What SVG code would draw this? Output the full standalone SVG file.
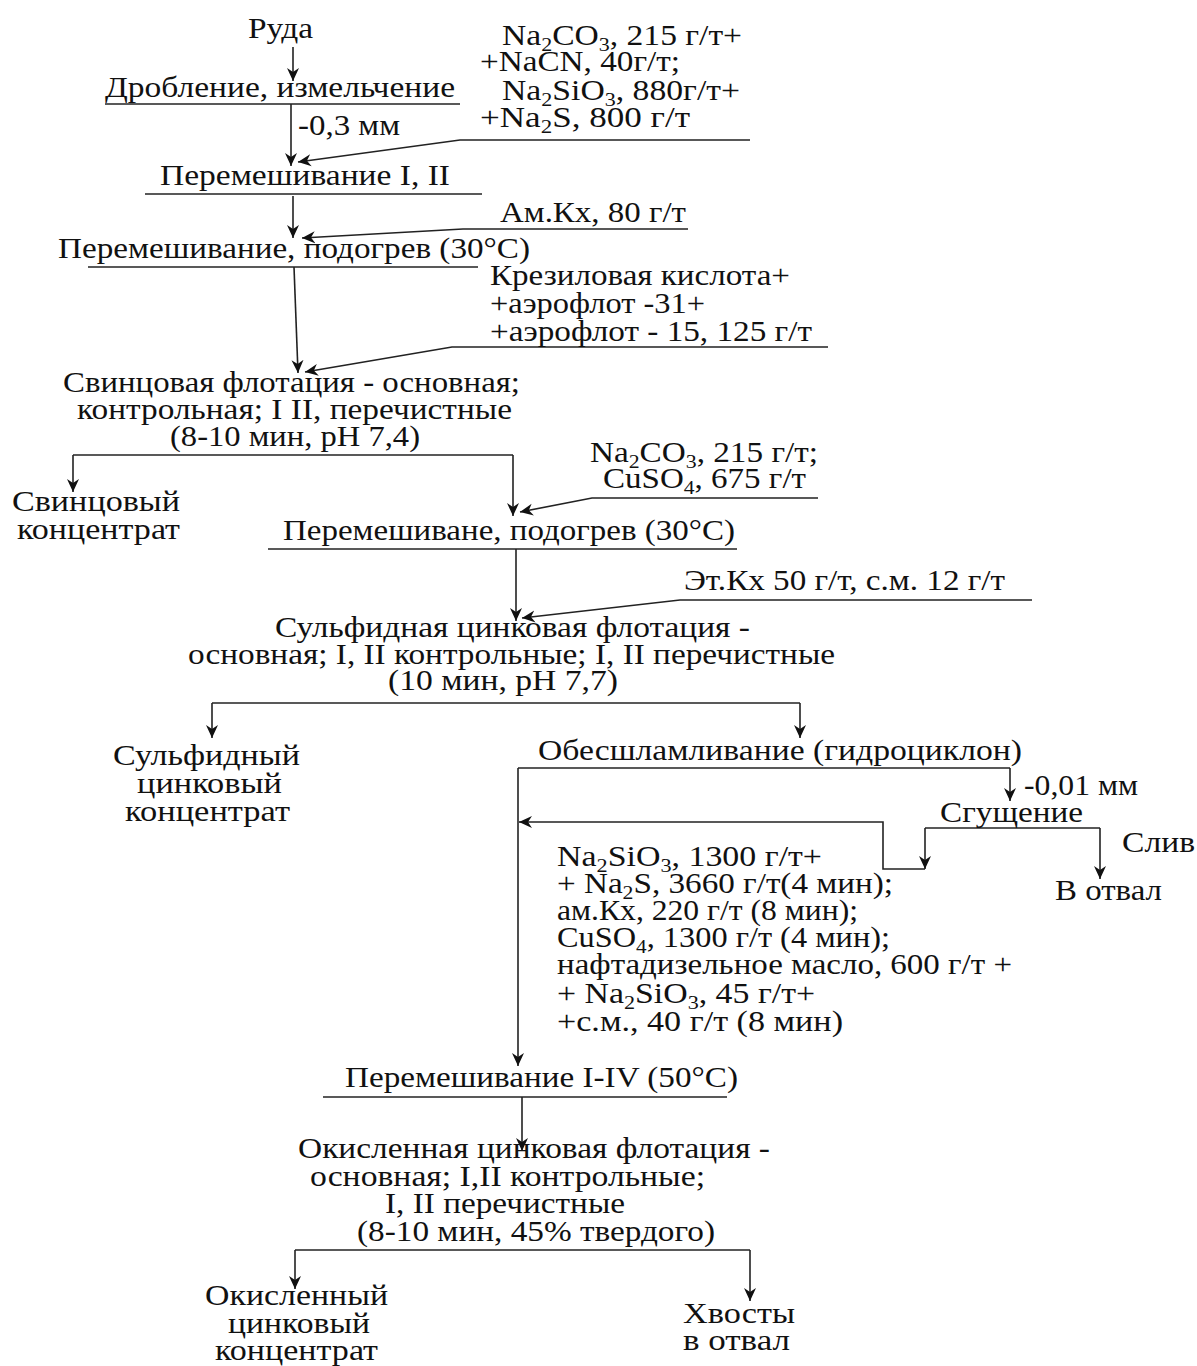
<svg xmlns="http://www.w3.org/2000/svg" width="1197" height="1366" viewBox="0 0 1197 1366">
<style>
text{font-family:"Liberation Serif","Times New Roman",serif;font-size:29px;fill:#111}
.sub{font-size:19px}
.ln{fill:none;stroke:#222;stroke-width:1.6}
.ar{marker-end:url(#ah)}
</style>
<defs>
<marker id="ah" markerUnits="userSpaceOnUse" markerWidth="14" markerHeight="14" refX="13" refY="7" orient="auto">
<path d="M0,1 L13,7 L0,13 L4,7 z" fill="#111"/>
</marker>
</defs>
<rect width="1197" height="1366" fill="#fff"/>

<g id="connectors">
<path class="ln ar" d="M293,47 V81"/>
<path class="ln ar" d="M291,104 V166"/>
<path class="ln ar" d="M750,140 H460 L298,162"/>
<path class="ln ar" d="M293,196 V238"/>
<path class="ln ar" d="M688,229 H463 L302,238"/>
<path class="ln ar" d="M294,267 L298,373"/>
<path class="ln ar" d="M828,347 H452 L305,372"/>
<path class="ln" d="M73,455 H513"/>
<path class="ln ar" d="M73,455 V492"/>
<path class="ln ar" d="M513,455 V516"/>
<path class="ln ar" d="M818,498 H592 L520,512"/>
<path class="ln ar" d="M516,549 V621"/>
<path class="ln ar" d="M1032,600 H680 L522,618"/>
<path class="ln" d="M212,703 H800"/>
<path class="ln ar" d="M212,703 V738"/>
<path class="ln ar" d="M800,703 V738"/>
<path class="ln" d="M518,768 H1010"/>
<path class="ln ar" d="M1010,768 V801"/>
<path class="ln ar" d="M518,768 V1066"/>
<path class="ln" d="M925,828 H1100"/>
<path class="ln ar" d="M925,828 V869"/>
<path class="ln ar" d="M1100,828 V879"/>
<path class="ln ar" d="M925,869 H883 V822 H519"/>
<path class="ln ar" d="M522,1097 V1151"/>
<path class="ln" d="M295,1250 H750"/>
<path class="ln ar" d="M295,1250 V1289"/>
<path class="ln ar" d="M750,1250 V1301"/>
</g>

<g id="ore"><text x="248" y="38" textLength="65" lengthAdjust="spacingAndGlyphs">Руда</text></g>

<g id="crushing">
<text x="105" y="97" textLength="350" lengthAdjust="spacingAndGlyphs">Дробление, измельчение</text>
<path class="ln" d="M105,104 H460"/>
</g>
<g id="size1"><text x="298" y="135" textLength="102" lengthAdjust="spacingAndGlyphs">-0,3 мм</text></g>

<g id="reagents1">
<text x="502" y="45" textLength="240" lengthAdjust="spacingAndGlyphs">Na<tspan class="sub" dy="6">2</tspan><tspan dy="-6">CO</tspan><tspan class="sub" dy="6">3</tspan><tspan dy="-6">, 215 г/т+</tspan></text>
<text x="480" y="71" textLength="200" lengthAdjust="spacingAndGlyphs">+NaCN, 40г/т;</text>
<text x="502" y="100" textLength="238" lengthAdjust="spacingAndGlyphs">Na<tspan class="sub" dy="6">2</tspan><tspan dy="-6">SiO</tspan><tspan class="sub" dy="6">3</tspan><tspan dy="-6">, 880г/т+</tspan></text>
<text x="480" y="127" textLength="210" lengthAdjust="spacingAndGlyphs">+Na<tspan class="sub" dy="6">2</tspan><tspan dy="-6">S, 800 г/т</tspan></text>
</g>

<g id="mixing1">
<text x="160" y="185" textLength="290" lengthAdjust="spacingAndGlyphs">Перемешивание I, II</text>
<path class="ln" d="M145,194 H482"/>
</g>

<g id="reagents2"><text x="500" y="222" textLength="186" lengthAdjust="spacingAndGlyphs">Ам.Кх, 80 г/т</text></g>

<g id="mixing2">
<text x="58" y="258" textLength="472" lengthAdjust="spacingAndGlyphs">Перемешивание, подогрев (30°С)</text>
<path class="ln" d="M88,267 H478"/>
</g>

<g id="reagents3">
<text x="490" y="285" textLength="300" lengthAdjust="spacingAndGlyphs">Крезиловая кислота+</text>
<text x="490" y="313" textLength="215" lengthAdjust="spacingAndGlyphs">+аэрофлот -31+</text>
<text x="490" y="341" textLength="322" lengthAdjust="spacingAndGlyphs">+аэрофлот - 15, 125 г/т</text>
</g>

<g id="lead-flotation">
<text x="63" y="392" textLength="457" lengthAdjust="spacingAndGlyphs">Свинцовая флотация - основная;</text>
<text x="77" y="419" textLength="435" lengthAdjust="spacingAndGlyphs">контрольная; I II, перечистные</text>
<text x="170" y="446" textLength="250" lengthAdjust="spacingAndGlyphs">(8-10 мин, pH 7,4)</text>
</g>

<g id="lead-concentrate">
<text x="12" y="511" textLength="168" lengthAdjust="spacingAndGlyphs">Свинцовый</text>
<text x="17" y="539" textLength="163" lengthAdjust="spacingAndGlyphs">концентрат</text>
</g>

<g id="reagents4">
<text x="590" y="462" textLength="228" lengthAdjust="spacingAndGlyphs">Na<tspan class="sub" dy="6">2</tspan><tspan dy="-6">CO</tspan><tspan class="sub" dy="6">3</tspan><tspan dy="-6">, 215 г/т;</tspan></text>
<text x="603" y="488" textLength="203" lengthAdjust="spacingAndGlyphs">CuSO<tspan class="sub" dy="6">4</tspan><tspan dy="-6">, 675 г/т</tspan></text>
</g>

<g id="mixing3">
<text x="283" y="540" textLength="452" lengthAdjust="spacingAndGlyphs">Перемешиване, подогрев (30°С)</text>
<path class="ln" d="M268,549 H737"/>
</g>

<g id="reagents5"><text x="684" y="590" textLength="321" lengthAdjust="spacingAndGlyphs">Эт.Кх 50 г/т, с.м. 12 г/т</text></g>

<g id="zinc-sulfide-flotation">
<text x="275" y="637" textLength="475" lengthAdjust="spacingAndGlyphs">Сульфидная цинковая флотация -</text>
<text x="188" y="664" textLength="647" lengthAdjust="spacingAndGlyphs">основная; I, II контрольные; I, II перечистные</text>
<text x="388" y="690" textLength="230" lengthAdjust="spacingAndGlyphs">(10 мин,  pH 7,7)</text>
</g>

<g id="zinc-sulfide-concentrate">
<text x="113" y="765" textLength="187" lengthAdjust="spacingAndGlyphs">Сульфидный</text>
<text x="137" y="793" textLength="145" lengthAdjust="spacingAndGlyphs">цинковый</text>
<text x="125" y="821" textLength="165" lengthAdjust="spacingAndGlyphs">концентрат</text>
</g>

<g id="desliming"><text x="538" y="760" textLength="484" lengthAdjust="spacingAndGlyphs">Обесшламливание (гидроциклон)</text></g>
<g id="size2"><text x="1024" y="795" textLength="114" lengthAdjust="spacingAndGlyphs">-0,01 мм</text></g>
<g id="thickening"><text x="940" y="822" textLength="143" lengthAdjust="spacingAndGlyphs">Сгущение</text></g>
<g id="overflow"><text x="1122" y="852" textLength="73" lengthAdjust="spacingAndGlyphs">Слив</text></g>
<g id="waste1"><text x="1055" y="900" textLength="107" lengthAdjust="spacingAndGlyphs">В отвал</text></g>

<g id="reagents6">
<text x="557" y="866" textLength="265" lengthAdjust="spacingAndGlyphs">Na<tspan class="sub" dy="6">2</tspan><tspan dy="-6">SiO</tspan><tspan class="sub" dy="6">3</tspan><tspan dy="-6">, 1300 г/т+</tspan></text>
<text x="557" y="893" textLength="336" lengthAdjust="spacingAndGlyphs">+ Na<tspan class="sub" dy="6">2</tspan><tspan dy="-6">S, 3660 г/т(4 мин);</tspan></text>
<text x="557" y="920" textLength="301" lengthAdjust="spacingAndGlyphs">ам.Кх, 220 г/т (8 мин);</text>
<text x="557" y="947" textLength="333" lengthAdjust="spacingAndGlyphs">CuSO<tspan class="sub" dy="6">4</tspan><tspan dy="-6">, 1300 г/т (4 мин);</tspan></text>
<text x="557" y="974" textLength="455" lengthAdjust="spacingAndGlyphs">нафтадизельное масло, 600 г/т +</text>
<text x="557" y="1003" textLength="258" lengthAdjust="spacingAndGlyphs">+ Na<tspan class="sub" dy="6">2</tspan><tspan dy="-6">SiO</tspan><tspan class="sub" dy="6">3</tspan><tspan dy="-6">,  45 г/т+</tspan></text>
<text x="557" y="1031" textLength="286" lengthAdjust="spacingAndGlyphs">+с.м., 40 г/т  (8 мин)</text>
</g>

<g id="mixing4">
<text x="345" y="1087" textLength="393" lengthAdjust="spacingAndGlyphs">Перемешивание I-IV (50°С)</text>
<path class="ln" d="M323,1097 H727"/>
</g>

<g id="zinc-oxide-flotation">
<text x="298" y="1158" textLength="472" lengthAdjust="spacingAndGlyphs">Окисленная цинковая флотация -</text>
<text x="310" y="1186" textLength="395" lengthAdjust="spacingAndGlyphs">основная; I,II контрольные;</text>
<text x="385" y="1213" textLength="240" lengthAdjust="spacingAndGlyphs">I, II перечистные</text>
<text x="357" y="1241" textLength="358" lengthAdjust="spacingAndGlyphs">(8-10 мин, 45% твердого)</text>
</g>

<g id="zinc-oxide-concentrate">
<text x="205" y="1305" textLength="183" lengthAdjust="spacingAndGlyphs">Окисленный</text>
<text x="228" y="1333" textLength="142" lengthAdjust="spacingAndGlyphs">цинковый</text>
<text x="215" y="1360" textLength="163" lengthAdjust="spacingAndGlyphs">концентрат</text>
</g>

<g id="tailings">
<text x="683" y="1323" textLength="112" lengthAdjust="spacingAndGlyphs">Хвосты</text>
<text x="683" y="1350" textLength="107" lengthAdjust="spacingAndGlyphs">в  отвал</text>
</g>
</svg>
